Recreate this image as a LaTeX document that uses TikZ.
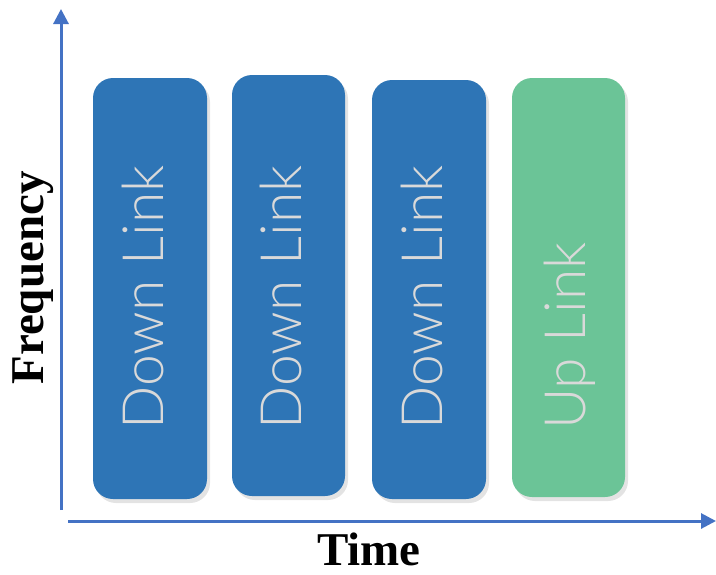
\documentclass[tikz,border=0pt]{standalone}
\usepackage{fontspec}
\setmainfont{Liberation Serif}
\newfontfamily\thinfont{Lato Light}
\usetikzlibrary{arrows.meta,shadows}
\definecolor{dlblue}{HTML}{2E75B6}
\definecolor{ulgreen}{HTML}{6BC497}
\definecolor{axisblue}{HTML}{4472C4}
\definecolor{lbltxt}{HTML}{D9D9D9}
\begin{document}
\begin{tikzpicture}[x=1pt,y=-1pt,
  slot/.style={rectangle, rounded corners=20pt, inner sep=0pt,
    drop shadow={opacity=0.22, shadow xshift=3pt, shadow yshift=-4pt}},
  lbl/.style={rotate=90, anchor=base west, inner sep=0pt, text=lbltxt,
    font=\thinfont\fontsize{57}{57}\selectfont},
  axis/.style={draw=axisblue, line width=3pt, -{Triangle[length=15pt,width=15pt]}},
  title/.style={inner sep=0pt, font=\bfseries\fontsize{47}{47}\selectfont}]
\useasboundingbox (0,0) rectangle (716,574);
% boxes
\node[slot, fill=dlblue, minimum width=114pt, minimum height=421pt] (b1) at (150,288.5) {};
\node[slot, fill=dlblue, minimum width=113pt, minimum height=421pt] (b2) at (288.5,285.5) {};
\node[slot, fill=dlblue, minimum width=114pt, minimum height=419pt] (b3) at (429,289.5) {};
\node[slot, fill=ulgreen, minimum width=113pt, minimum height=419pt] (b4) at (568.5,287.5) {};
% box labels
\node[lbl] (t1) at (163,430) {Down Link};
\node[lbl] (t2) at (301.5,430) {Down Link};
\node[lbl] (t3) at (442,430) {Down Link};
\node[lbl] (t4) at (585,430) {Up Link};
% axes
\coordinate (vO) at (61,510);
\coordinate (vT) at (61,9);
\coordinate (hO) at (68,521);
\coordinate (hT) at (716,521);
\draw[axis] (vO) -- (vT);
\draw[axis] (hO) -- (hT);
% axis titles
\node[title, rotate=90, anchor=base] (freq) at (43,278) {Frequency};
\node[title, anchor=base] (time) at (369,565) {Time};
\end{tikzpicture}
\end{document}
